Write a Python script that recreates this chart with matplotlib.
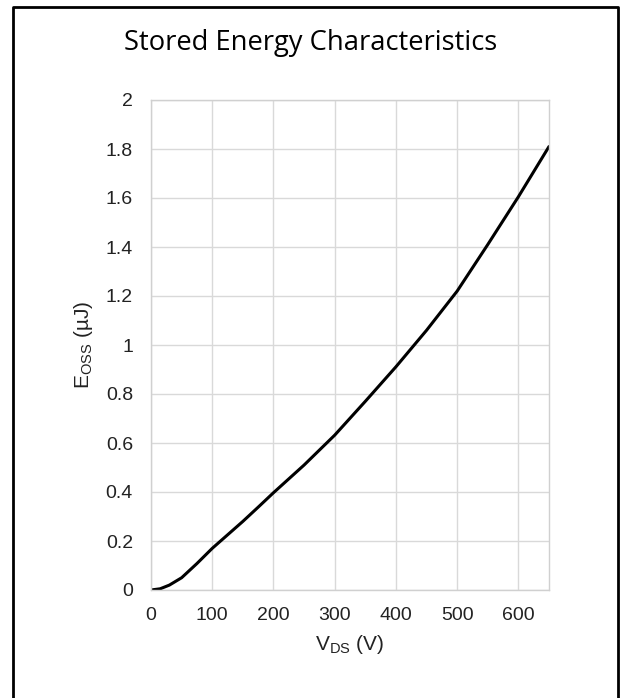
import matplotlib
matplotlib.use("Agg")
import matplotlib.pyplot as plt
from matplotlib.lines import Line2D

# Stored energy curve
vds = [0, 15, 30, 50, 75, 100, 125, 150, 175, 200, 250, 300, 350, 400, 450, 500,
       550, 600, 650]
eoss = [0, 0.005, 0.02, 0.05, 0.108, 0.17, 0.225, 0.28, 0.338, 0.397, 0.51, 0.632,
        0.77, 0.911, 1.06, 1.22, 1.41, 1.605, 1.81]

x_ticks = [0, 100, 200, 300, 400, 500, 600]
y_ticks = [0, 0.2, 0.4, 0.6, 0.8, 1.0, 1.2, 1.4, 1.6, 1.8, 2.0]
y_labels = ["0", "0.2", "0.4", "0.6", "0.8", "1", "1.2", "1.4", "1.6", "1.8", "2"]

plt.rcParams["font.family"] = ["Liberation Sans", "DejaVu Sans"]
plt.rcParams["mathtext.default"] = "regular"

fig = plt.figure(figsize=(6.21, 6.98), dpi=100)
ax = fig.add_axes([151 / 621, 1 - 590 / 698, 398 / 621, 490 / 698])

ax.plot(vds, eoss, color="black", linewidth=2.2, solid_capstyle="round")

ax.set_xlim(0, 650)
ax.set_ylim(0, 2)
ax.set_xticks(x_ticks)
ax.set_yticks(y_ticks)
ax.set_yticklabels(y_labels)
ax.tick_params(axis="both", length=0, labelsize=14, colors="#222222")
ax.tick_params(axis="x", pad=12)
ax.tick_params(axis="y", pad=13)
ax.grid(True, color="#d9d9d9", linewidth=1)
ax.set_axisbelow(True)
for s in ax.spines.values():
    s.set_color("#d0d0d0")
    s.set_linewidth(1)

ax.set_xlabel("V$_{DS}$ (V)", fontsize=15, labelpad=7, color="#222222")
ax.set_ylabel("E$_{OSS}$ (µJ)", fontsize=15, labelpad=8, color="#222222")

fig.text(0.5, 1 - 43 / 698, "Stored Energy Characteristics", ha="center", va="center",
         fontsize=19.7, family=["Open Sans", "DejaVu Sans"], color="black")

# outer frame (left, top, right)
fx = [12.5 / 621, 12.5 / 621, 617.5 / 621, 617.5 / 621]
fy = [0, 1 - 6.5 / 698, 1 - 6.5 / 698, 0]
fig.add_artist(Line2D(fx, fy, color="black", linewidth=2, transform=fig.transFigure))

fig.savefig("out.png", dpi=100)
